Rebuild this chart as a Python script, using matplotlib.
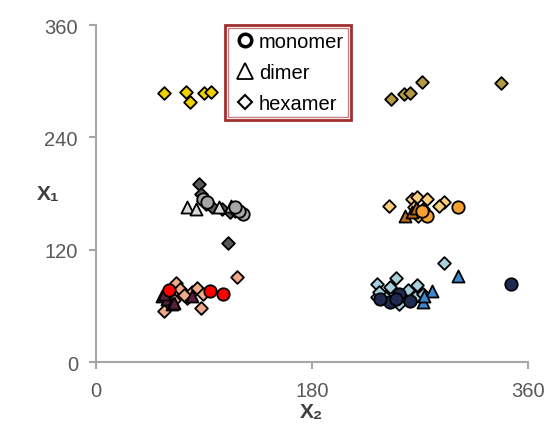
import matplotlib.pyplot as plt
from matplotlib.lines import Line2D
from matplotlib.patches import Rectangle

plt.rcParams['font.family'] = ['Liberation Sans', 'DejaVu Sans']

# (x2, x1) pairs, one list per group
red_monomer = [(61, 77), (95, 76), (106, 73)]
red_dimer = [(55, 70), (59, 67), (63, 62), (65, 63), (80, 70), (57, 73)]
red_hexamer = [(57, 54), (59, 69), (63, 74), (67, 84), (70, 78), (76, 68), (80, 75),
               (84, 79), (89, 73), (88, 58), (118, 91), (73, 72), (65, 66)]

gray_monomer = [(123, 158), (119, 161), (116, 166), (89, 174), (93, 171)]
gray_dimer = [(76, 166), (83, 163), (103, 166), (113, 167)]
gray_hexamer = [(86, 190), (110, 127), (89, 172), (92, 169), (97, 166), (105, 163),
                (112, 160), (116, 161), (88, 179)]

orange_monomer = [(276, 156), (302, 166), (272, 161)]
orange_dimer = [(258, 156), (264, 160), (267, 165)]
orange_hexamer = [(244, 167), (264, 174), (268, 176), (276, 174), (265, 166), (273, 163),
                  (269, 156), (290, 171), (286, 167)]

blue_monomer = [(346, 83), (253, 73), (245, 64), (237, 67), (262, 65), (250, 67)]
blue_dimer = [(302, 92), (280, 76), (273, 64), (274, 71)]
blue_hexamer = [(290, 106), (234, 83), (250, 90), (245, 80), (260, 77), (268, 82), (234, 69),
                (241, 69), (253, 62), (266, 69), (273, 73), (236, 75)]

yellow_hexamer = [(57, 287), (75, 288), (78, 278), (90, 287), (96, 288)]
khaki_hexamer = [(246, 281), (257, 286), (262, 287), (272, 299), (338, 298)]

groups = [
    (red_hexamer, 'D', '#f0a888'), (red_dimer, '^', '#5a1f3f'), (red_monomer, 'o', '#ff0000'),
    (gray_hexamer, 'D', '#595959'), (gray_dimer, '^', '#d9d9d9'), (gray_monomer, 'o', '#a6a6a6'),
    (orange_hexamer, 'D', '#fbcf7a'), (orange_dimer, '^', '#c06a10'), (orange_monomer, 'o', '#f5a030'),
    (blue_hexamer, 'D', '#a8cfdc'), (blue_dimer, '^', '#3a88d0'), (blue_monomer, 'o', '#1f2a50'),
    (yellow_hexamer, 'D', '#f0d000'), (khaki_hexamer, 'D', '#b49a45'),
]
sizes = {'D': 42, '^': 75, 'o': 80}

fig = plt.figure(figsize=(5.47, 4.35), dpi=100)
ax = fig.add_axes([0.1755, 0.1655, 0.789, 0.7745])

for pts, m, c in groups:
    xs = [p[0] for p in pts]
    ys = [p[1] for p in pts]
    ax.scatter(xs, ys, marker=m, s=sizes[m], c=c, edgecolors='black', linewidths=1.3, zorder=3)

ax.set_xlim(0, 360)
ax.set_ylim(0, 360)
ax.set_xticks([0, 180, 360])
ax.set_yticks([0, 120, 240, 360])
for s in ['top', 'right']:
    ax.spines[s].set_visible(False)
for s in ['left', 'bottom']:
    ax.spines[s].set_color('#a6a6a6')
    ax.spines[s].set_linewidth(1.5)
ax.tick_params(colors='#a6a6a6', labelcolor='#595959', labelsize=14.5, length=5, width=1.5)
ax.tick_params(axis='x', pad=9)
ax.tick_params(axis='y', pad=8)

ax.set_xlabel('X\u2082', fontsize=15, fontweight='bold', color='#404040', labelpad=1)
ax.set_ylabel('X\u2081', fontsize=15, fontweight='bold', color='#404040', rotation=0,
              va='center', ha='center')
ax.yaxis.set_label_coords(-0.11, 0.5)

handles = [
    Line2D([], [], marker='o', ls='none', mfc='white', mec='black', mew=2.5, ms=9),
    Line2D([], [], marker='^', ls='none', mfc='white', mec='black', mew=1.3, ms=11),
    Line2D([], [], marker='D', ls='none', mfc='white', mec='black', mew=1.5, ms=7),
]
leg = ax.legend(handles, ['monomer', 'dimer', 'hexamer'], loc='upper left',
                bbox_to_anchor=(0.30, 1.0), borderaxespad=0, fontsize=14.5,
                handletextpad=0.1, handlelength=1.2, labelspacing=0.6,
                borderpad=0.35, fancybox=False, framealpha=1)
leg.get_frame().set_edgecolor('#a03030')
leg.get_frame().set_linewidth(2)

# inner line of the double border
fig.canvas.draw()
bb = leg.get_window_extent().transformed(fig.transFigure.inverted())
dx, dy = 3 / 547, 3 / 435
fig.patches.append(Rectangle((bb.x0 + dx, bb.y0 + dy), bb.width - 2 * dx, bb.height - 2 * dy,
                             transform=fig.transFigure, fill=False, ec='#c08080', lw=1))

fig.savefig('out.png', dpi=100)
